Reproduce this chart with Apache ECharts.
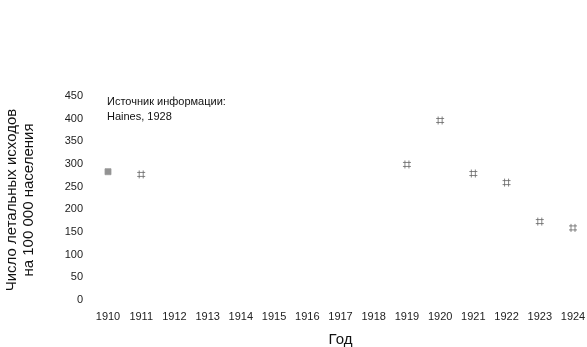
<!DOCTYPE html>
<html>
<head>
<meta charset="utf-8">
<script src="https://cdn.jsdelivr.net/npm/echarts@6/dist/echarts.min.js"></script>
<style>
  html, body { margin: 0; padding: 0; background: #fff; }
  #chart { width: 587px; height: 347px; }
</style>
</head>
<body>
<div id="chart"></div>
<script>
// Years on the horizontal axis
const years = ['1910', '1911', '1912', '1913', '1914', '1915', '1916', '1917',
               '1918', '1919', '1920', '1921', '1922', '1923', '1924'];
// Deaths per 100 000 population ('-' = no observation for that year)
const deathRate = [283, 277, '-', '-', '-', '-', '-', '-',
                   '-', 299, 396, 279, 259, 173, 159];
// Vertical axis range
const yMin = 0;
const yMax = 450;
const yStep = 50;

const FONT = '"Liberation Sans", Arial, sans-serif';
// Small hash-shaped marker
const hashPath = 'path://M2,0L2,8M6,0L6,8M0,2L8,2M0,6L8,6';

const seriesData = deathRate.map((v, i) => {
  if (i === 0) {
    return { value: v, symbol: 'rect', symbolSize: 6,
             itemStyle: { color: '#777', borderColor: '#999', borderWidth: 1 } };
  }
  return v;
});

const chart = echarts.init(document.getElementById('chart'), null, { renderer: 'canvas' });
chart.setOption({
  animation: false,
  backgroundColor: '#fff',
  textStyle: { fontFamily: FONT },
  grid: { left: 108, right: 14, top: 96, bottom: 47, containLabel: false, outerBoundsMode: 'none' },
  xAxis: {
    type: 'category',
    data: years,
    boundaryGap: false,
    axisLine: { show: false },
    axisTick: { show: false },
    splitLine: { show: false },
    axisLabel: { color: '#222', fontSize: 11, fontFamily: FONT, margin: 11, interval: 0 },
    name: 'Год',
    nameLocation: 'middle',
    nameGap: 32,
    nameTextStyle: { color: '#111', fontSize: 15, fontFamily: FONT }
  },
  yAxis: {
    type: 'value',
    min: yMin,
    max: yMax,
    interval: yStep,
    axisLine: { show: false },
    axisTick: { show: false },
    splitLine: { show: false },
    axisLabel: { color: '#222', fontSize: 11, fontFamily: FONT, margin: 25 }
  },
  graphic: [
    {
      type: 'text',
      left: 107,
      top: 94,
      style: {
        text: 'Источник информации:\nHaines, 1928',
        fill: '#111',
        font: '11px ' + FONT,
        lineHeight: 15
      }
    },
    {
      type: 'text',
      x: 20,
      y: 200,
      rotation: Math.PI / 2,
      style: {
        text: 'Число летальных исходов\nна 100 000 населения',
        fill: '#111',
        font: '15px ' + FONT,
        lineHeight: 17,
        align: 'center',
        verticalAlign: 'middle'
      }
    }
  ],
  series: [{
    type: 'scatter',
    data: seriesData,
    symbol: hashPath,
    symbolSize: 8,
    itemStyle: { color: 'none', borderColor: '#666', borderWidth: 1 }
  }]
});
</script>
</body>
</html>
